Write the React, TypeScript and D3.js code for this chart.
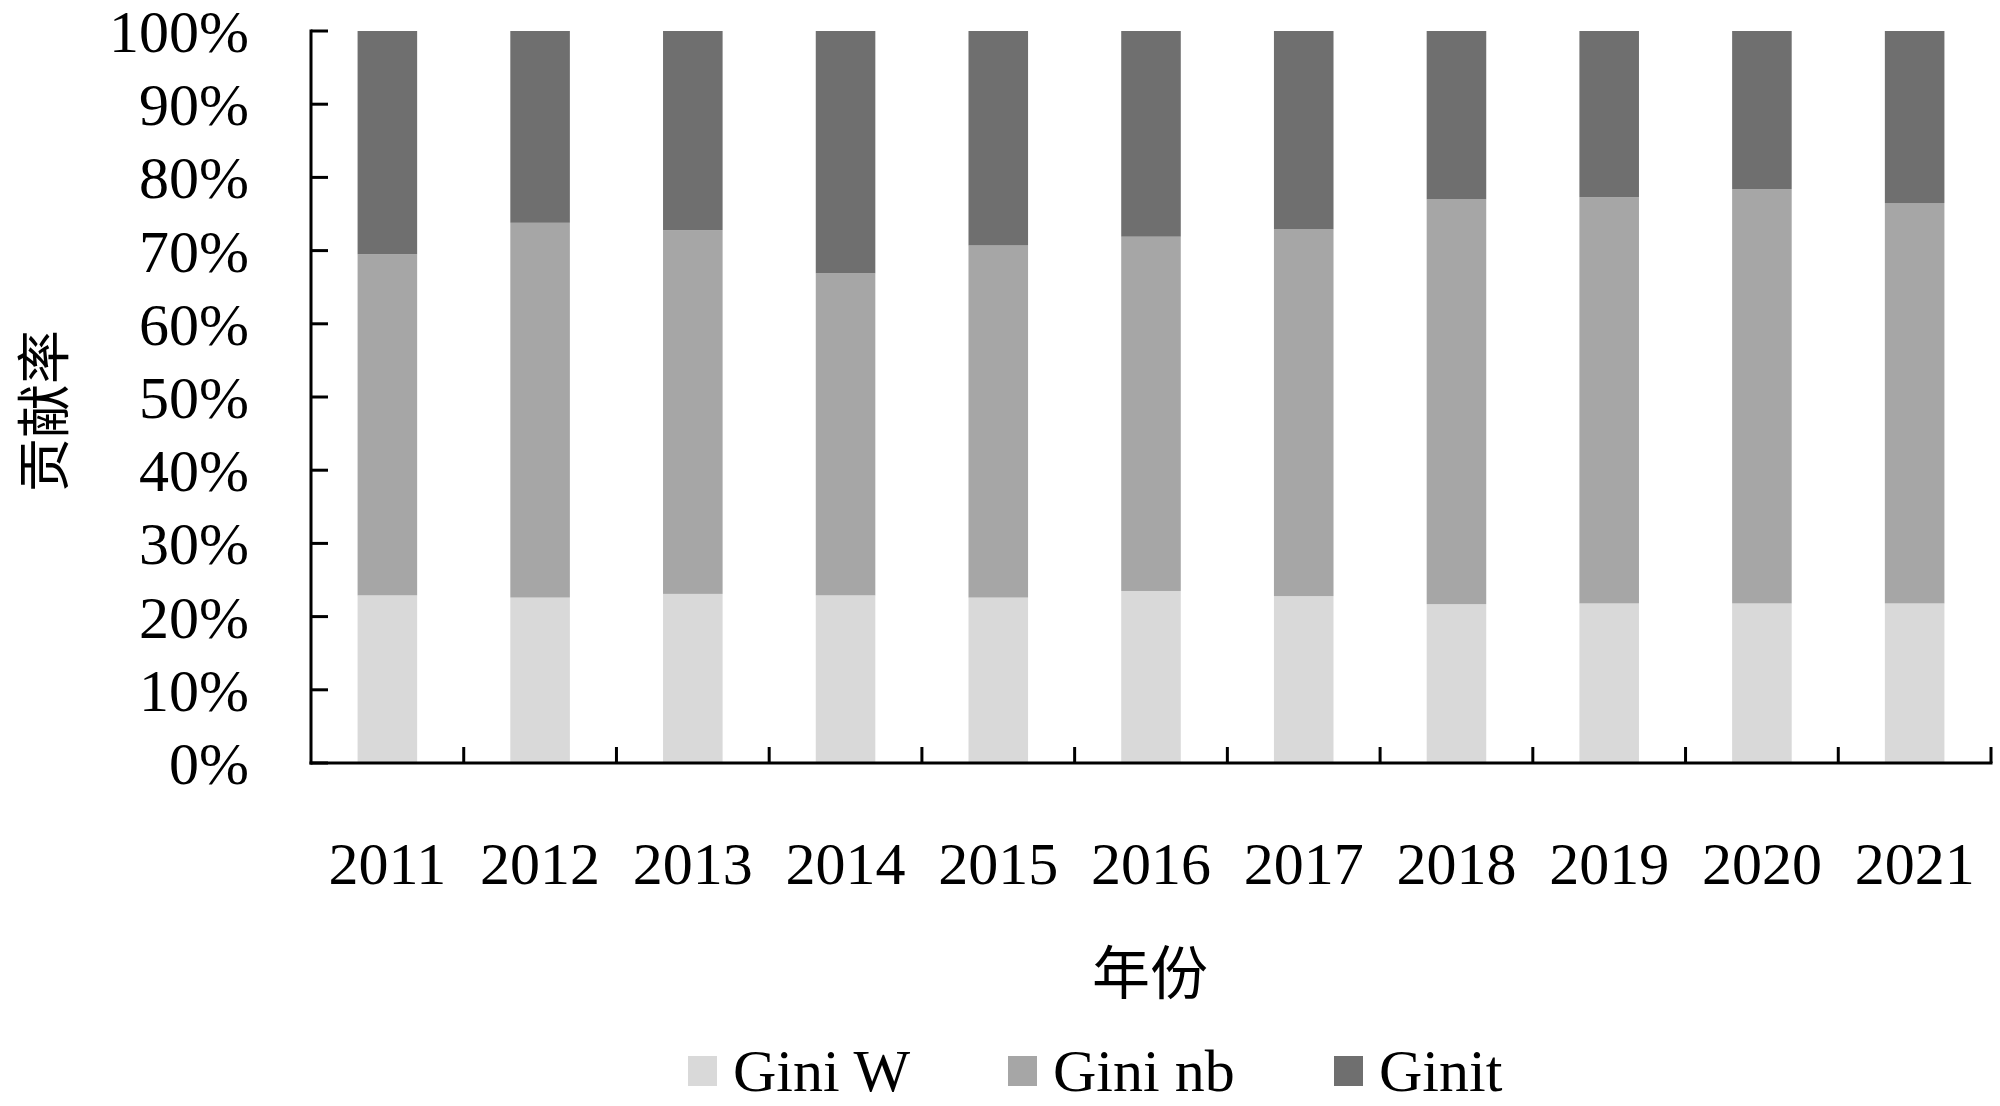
import React, { useEffect, useRef } from 'react';
import * as d3 from 'd3';

// years on the x axis
const years = ['2011', '2012', '2013', '2014', '2015', '2016', '2017', '2018', '2019', '2020', '2021'];

// contribution shares (%)
const giniW = [22.9, 22.6, 23.1, 22.9, 22.6, 23.5, 22.8, 21.7, 21.8, 21.8, 21.8];
const giniNb = [46.6, 51.2, 49.7, 44.0, 48.1, 48.4, 50.1, 55.3, 55.5, 56.6, 54.7];
const giniT = [30.5, 26.2, 27.2, 33.1, 29.3, 28.1, 27.1, 23.0, 22.7, 21.6, 23.5];

const seriesNames = ['Gini W', 'Gini nb', 'Ginit'];
const yTicks = [0, 10, 20, 30, 40, 50, 60, 70, 80, 90, 100];

const App = () => {
  const svgRef = useRef<SVGSVGElement>(null);

  useEffect(() => {
    const svg = d3.select(svgRef.current);
    svg.selectAll('*').remove();

    const left = 311;
    const right = 1991;
    const top = 31;
    const bottom = 763;
    const serif = '"Liberation Serif", "Times New Roman", serif';
    const cjk = '"Noto Sans CJK SC", sans-serif';
    const colors = ['#d9d9d9', '#a6a6a6', '#6f6f6f'];

    const rows = years.map((y, i) => ({ year: y, w: giniW[i], nb: giniNb[i], t: giniT[i] }));
    const stack = d3.stack<any>().keys(['w', 'nb', 't'])(rows);

    const x = d3.scaleBand().domain(years).range([left, right]).paddingInner(0).paddingOuter(0);
    const y = d3.scaleLinear().domain([0, 100]).range([bottom, top]);
    const barW = x.bandwidth() * 0.39;

    // bars
    stack.forEach((layer, k) => {
      svg.append('g')
        .selectAll('rect')
        .data(layer)
        .enter()
        .append('rect')
        .attr('x', (d: any) => x(d.data.year)! + (x.bandwidth() - barW) / 2)
        .attr('y', (d) => y(d[1]))
        .attr('width', barW)
        .attr('height', (d) => y(d[0]) - y(d[1]))
        .attr('fill', colors[k]);
    });

    // y axis
    svg.append('line')
      .attr('x1', left).attr('x2', left)
      .attr('y1', top - 1.5).attr('y2', bottom + 1.5)
      .attr('stroke', '#000').attr('stroke-width', 3);
    yTicks.forEach((t) => {
      svg.append('line')
        .attr('x1', left).attr('x2', left + 17)
        .attr('y1', y(t)).attr('y2', y(t))
        .attr('stroke', '#000').attr('stroke-width', 3);
      svg.append('text')
        .attr('x', 249)
        .attr('y', y(t) + 21)
        .attr('text-anchor', 'end')
        .attr('font-family', serif)
        .attr('font-size', 60)
        .text(`${t}%`);
    });

    // x axis
    svg.append('line')
      .attr('x1', left - 1.5).attr('x2', right + 1.5)
      .attr('y1', bottom).attr('y2', bottom)
      .attr('stroke', '#000').attr('stroke-width', 3);
    [...years.slice(1).map((yr) => x(yr)!), right].forEach((px) => {
      svg.append('line')
        .attr('x1', px).attr('x2', px)
        .attr('y1', bottom).attr('y2', bottom - 16)
        .attr('stroke', '#000').attr('stroke-width', 3);
    });
    years.forEach((yr) => {
      svg.append('text')
        .attr('x', x(yr)! + x.bandwidth() / 2)
        .attr('y', 884)
        .attr('text-anchor', 'middle')
        .attr('font-family', serif)
        .attr('font-size', 60)
        .text(yr);
    });

    // axis titles
    svg.append('text')
      .attr('x', 1150)
      .attr('y', 994)
      .attr('text-anchor', 'middle')
      .attr('font-family', cjk)
      .attr('font-size', 58)
      .text('年份');

    svg.append('text')
      .attr('transform', 'translate(64,411) rotate(-90)')
      .attr('text-anchor', 'middle')
      .attr('font-family', cjk)
      .attr('font-size', 54)
      .text('贡献率');

    // legend
    const legendX = [688, 1008, 1334];
    seriesNames.forEach((name, k) => {
      svg.append('rect')
        .attr('x', legendX[k])
        .attr('y', 1056)
        .attr('width', 29)
        .attr('height', 30)
        .attr('fill', colors[k]);
      svg.append('text')
        .attr('x', legendX[k] + 45)
        .attr('y', 1091)
        .attr('font-family', serif)
        .attr('font-size', 60)
        .text(name);
    });
  }, []);

  return (
    <svg
      ref={svgRef}
      width={2000}
      height={1106}
      style={{ position: 'absolute', left: 0, top: 0, background: '#fff' }}
    ></svg>
  );
};

export default App;
